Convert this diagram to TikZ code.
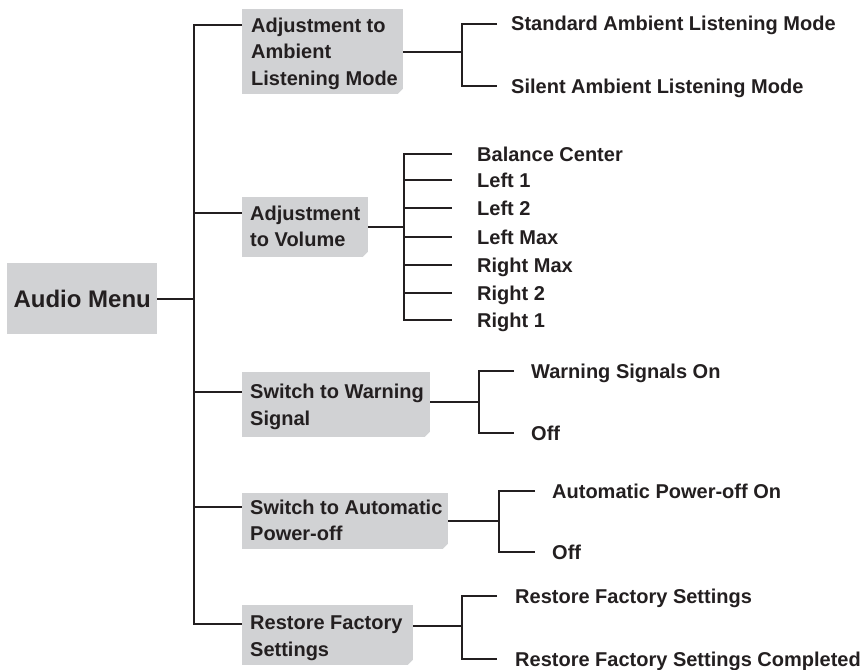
\documentclass[tikz,border=0pt]{standalone}
\usepackage{fontspec}
\setmainfont{Liberation Sans}
\usetikzlibrary{calc}
\definecolor{boxgray}{HTML}{D1D2D4}
\definecolor{ink}{HTML}{231F20}
\begin{document}
\begin{tikzpicture}[x=1pt,y=-1pt,
  conn/.style={draw=ink, line width=2.4pt},
  lvlbox/.style={fill=boxgray, inner sep=0pt, anchor=north west},
  lvltext/.style={inner sep=0pt, anchor=west,
    font=\fontsize{20}{26.5}\selectfont\bfseries, text=ink, align=left},
  leaf/.style={font=\fontsize{20}{24}\selectfont\bfseries, text=ink, anchor=west,
    inner ysep=0pt, text height=14pt, text depth=0pt},
  chamf/.style={fill=white}
]
\useasboundingbox (0,0) rectangle (864,669);

% root
\node[fill=boxgray, inner sep=0pt, minimum width=150pt, minimum height=71pt,
  anchor=north west, font=\fontsize{24}{28}\selectfont\bfseries, text=ink] (audio) at (7,263) {Audio Menu};

% level-1 boxes
\node[lvlbox, minimum width=161pt, minimum height=85pt] (b1) at (242,9) {};
\node[lvlbox, minimum width=126pt, minimum height=60pt] (b2) at (242,197) {};
\node[lvlbox, minimum width=188pt, minimum height=65pt] (b3) at (242,372) {};
\node[lvlbox, minimum width=206pt, minimum height=56pt] (b4) at (242,493) {};
\node[lvlbox, minimum width=171pt, minimum height=60pt] (b5) at (242,605) {};

\foreach \b in {b1,b2,b3,b4,b5}{
  \fill[chamf] ($(\b.south east)+(-6,0)$) -- ($(\b.south east)+(0,-6)$) -- ($(\b.south east)+(1,1)$) -- cycle;
}

\node[lvltext] (t1) at ($(b1.west)+(9,2)$) {Adjustment to\\Ambient\\Listening Mode};
\node[lvltext] (t2) at ($(b2.west)+(8,-1)$) {Adjustment\\to Volume};
\node[lvltext] (t3) at ($(b3.west)+(8,2)$) {Switch to Warning\\Signal};
\node[lvltext] (t4) at ($(b4.west)+(8,-1)$) {Switch to Automatic\\Power-off};
\node[lvltext] (t5) at ($(b5.west)+(8,3)$) {Restore Factory\\Settings};

% trunk
\coordinate (j1) at (194,25);
\coordinate (j2) at (194,213);
\coordinate (j3) at (194,392);
\coordinate (j4) at (194,507);
\coordinate (j5) at (194,624);
\draw[conn] (j1 -| b1.west) -- (j1) -- (j5) -- (j5 -| b5.west);
\draw[conn] (j2) -- (j2 -| b2.west);
\draw[conn] (j3) -- (j3 -| b3.west);
\draw[conn] (j4) -- (j4 -| b4.west);
\draw[conn] (audio.east) -- (audio.east -| j1);

% group 1
\coordinate (k1) at (462,52);
\node[leaf, inner xsep=14pt] (s1) at (497,24) {Standard Ambient Listening Mode};
\node[leaf, inner xsep=14pt] (s2) at (497,86) {Silent Ambient Listening Mode};
\draw[conn] (b1.east |- k1) -- (k1);
\draw[conn] (s1.west) -- (s1.west -| k1) -- (s2.west -| k1) -- (s2.west);

% group 2
\coordinate (k2) at (404,227);
\node[leaf, inner xsep=25pt] (v1) at (452,154) {Balance Center};
\node[leaf, inner xsep=25pt] (v2) at (452,180) {Left 1};
\node[leaf, inner xsep=25pt] (v3) at (452,208) {Left 2};
\node[leaf, inner xsep=25pt] (v4) at (452,237) {Left Max};
\node[leaf, inner xsep=25pt] (v5) at (452,265) {Right Max};
\node[leaf, inner xsep=25pt] (v6) at (452,293) {Right 2};
\node[leaf, inner xsep=25pt] (v7) at (452,320) {Right 1};
\draw[conn] (b2.east |- k2) -- (k2);
\draw[conn] (v1.west) -- (v1.west -| k2) -- (v7.west -| k2) -- (v7.west);
\foreach \v in {v2,v3,v4,v5,v6}{ \draw[conn] (\v.west -| k2) -- (\v.west); }

% group 3
\coordinate (k3) at (479,402);
\node[leaf, inner xsep=17pt] (w1) at (514,371) {Warning Signals On};
\node[leaf, inner xsep=17pt] (w2) at (514,433) {Off};
\draw[conn] (b3.east |- k3) -- (k3);
\draw[conn] (w1.west) -- (w1.west -| k3) -- (w2.west -| k3) -- (w2.west);

% group 4
\coordinate (k4) at (499,521);
\node[leaf, inner xsep=17pt] (p1) at (535,491) {Automatic Power-off On};
\node[leaf, inner xsep=17pt] (p2) at (535,552) {Off};
\draw[conn] (b4.east |- k4) -- (k4);
\draw[conn] (p1.west) -- (p1.west -| k4) -- (p2.west -| k4) -- (p2.west);

% group 5
\coordinate (k5) at (462,626);
\node[leaf, inner xsep=18pt] (r1) at (497,596) {Restore Factory Settings};
\node[leaf, inner xsep=18pt] (r2) at (497,659) {Restore Factory Settings Completed};
\draw[conn] (b5.east |- k5) -- (k5);
\draw[conn] (r1.west) -- (r1.west -| k5) -- (r2.west -| k5) -- (r2.west);
\end{tikzpicture}
\end{document}
